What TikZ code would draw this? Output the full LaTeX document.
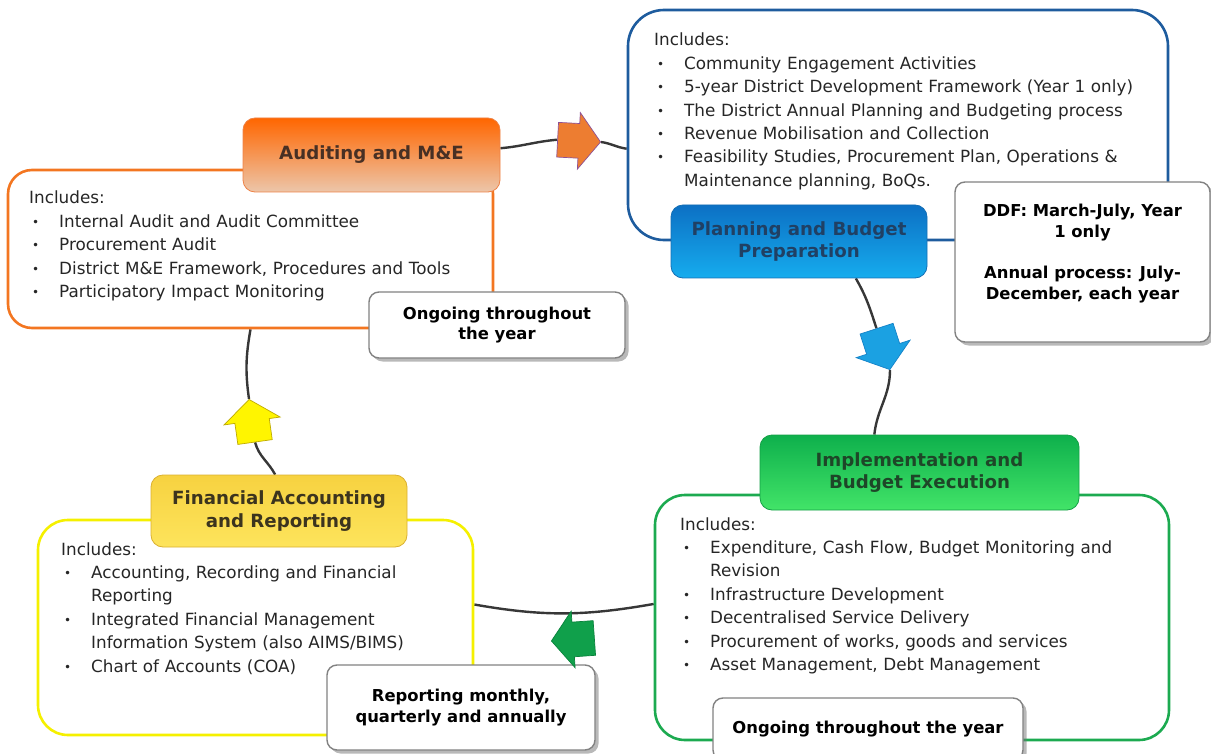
\documentclass[tikz,border=0pt]{standalone}
\usepackage{fontspec}
\setmainfont{DejaVu Sans}
\usetikzlibrary{shapes,arrows,positioning,calc,shadows,arrows.meta}
\pgfdeclarelayer{background}
\pgfsetlayers{background,main}
\definecolor{auditorange}{RGB}{243,118,33}
\definecolor{planblue}{RGB}{30,92,158}
\definecolor{implgreen}{RGB}{28,170,80}
\definecolor{finyellow}{RGB}{245,240,0}
\definecolor{ringgray}{RGB}{55,55,55}
\definecolor{notegray}{RGB}{130,130,130}

\newcommand{\bitem}[1]{\par\hangindent=30pt\hangafter=1\noindent\hspace*{3pt}\makebox[27pt][l]{\raisebox{1pt}{\fontsize{12}{12}\selectfont\textbullet}}#1\par}

\begin{document}
\begin{tikzpicture}[
    x=1pt, y=-1pt,
    stagebox/.style={rectangle, line width=2.6pt, fill=white, inner sep=0pt},
    stagetitle/.style={rectangle, rounded corners=12pt, line width=0.8pt, align=center, inner sep=0pt, font=\fontsize{18.2}{22.6}\selectfont\bfseries},
    audtab/.style={stagetitle, top color={rgb,255:red,255;green,102;blue,0}, middle color={rgb,255:red,251;green,118;blue,35}, bottom color={rgb,255:red,236;green,198;blue,170}, draw={rgb,255:red,238;green,130;blue,70}, text={rgb,255:red,72;green,48;blue,36}},
    plantab/.style={stagetitle, top color={rgb,255:red,12;green,112;blue,196}, bottom color={rgb,255:red,22;green,172;blue,238}, draw={rgb,255:red,20;green,110;blue,180}, text={rgb,255:red,32;green,64;blue,100}},
    impltab/.style={stagetitle, top color={rgb,255:red,14;green,176;blue,76}, bottom color={rgb,255:red,66;green,228;blue,104}, draw={rgb,255:red,20;green,160;blue,70}, text={rgb,255:red,30;green,70;blue,40}},
    fintab/.style={stagetitle, top color={rgb,255:red,247;green,210;blue,64}, bottom color={rgb,255:red,253;green,228;blue,92}, draw={rgb,255:red,218;green,176;blue,48}, text={rgb,255:red,60;green,52;blue,30}},
    notebox/.style={rectangle, rounded corners=10pt, draw=notegray, line width=1.4pt, fill=white, align=center, inner sep=0pt,
        font=\fontsize{16.4}{20.6}\selectfont\bfseries, drop shadow={shadow xshift=3.5pt, shadow yshift=-3.5pt, fill=black!55}},
    itemlist/.style={anchor=base west, inner sep=0pt, text width=#1, align=left, text=black!85,
        font=\fontsize{16.8}{23.4}\selectfont, execute at begin node={\setlength{\parskip}{0pt}}},
    blockarrow/.style={single arrow, anchor=tip, minimum height=43pt, minimum width=56pt, inner xsep=0pt, inner ysep=17pt,
        single arrow head extend=11pt, single arrow tip angle=105, line width=0.7pt},
    ring/.style={draw=ringgray, line width=2.4pt}
]
\useasboundingbox (0,0) rectangle (1211,754);

% Stage containers
\node[stagebox, draw=auditorange, rounded corners=24pt, minimum width=485pt, minimum height=158pt] (audbox) at (250.5,249) {};
\node[stagebox, draw=planblue, rounded corners=36pt, minimum width=540pt, minimum height=230pt] (planbox) at (898,125) {};
\node[stagebox, draw=implgreen, rounded corners=30pt, minimum width=514pt, minimum height=245pt] (implbox) at (912,617.5) {};
\node[stagebox, draw=finyellow, rounded corners=30pt, minimum width=435pt, minimum height=215pt] (finbox) at (255.5,627.5) {};

% Stage titles
\node[audtab, minimum width=257pt, minimum height=74pt] (audtitle) at (371.5,155) {Auditing and M\&E};
\node[plantab, minimum width=256pt, minimum height=73pt] (plantitle) at (799,241.5) {Planning and Budget\\Preparation};
\node[impltab, minimum width=319pt, minimum height=75pt] (impltitle) at (919.5,472.5) {Implementation and\\Budget Execution};
\node[fintab, minimum width=256pt, minimum height=72pt] (fintitle) at (279,511) {Financial Accounting\\and Reporting};

% Timing notes
\node[notebox, minimum width=256pt, minimum height=66pt] (audnote) at (497,325) {Ongoing throughout\\the year};
\node[notebox, minimum width=255pt, minimum height=160pt] (plannote) at (1082.5,262) {DDF: March-July, Year\\1 only\\[20.6pt]Annual process: July-\\December, each year\\ \mbox{}};
\node[notebox, minimum width=310pt, minimum height=62pt] (implnote) at (868,729) {Ongoing throughout the year};
\node[notebox, minimum width=268pt, minimum height=85pt] (finnote) at (461,707.5) {Reporting monthly,\\quarterly and annually};

% Lists of activities
\node[itemlist=440pt] (audlist) at (29,204) {Includes:
    \bitem{Internal Audit and Audit Committee}
    \bitem{Procurement Audit}
    \bitem{District M\&E Framework, Procedures and Tools}
    \bitem{Participatory Impact Monitoring}};
\node[itemlist=520pt] (planlist) at (654,46) {Includes:
    \bitem{Community Engagement Activities}
    \bitem{5-year District Development Framework (Year 1 only)}
    \bitem{The District Annual Planning and Budgeting process}
    \bitem{Revenue Mobilisation and Collection}
    \bitem{Feasibility Studies, Procurement Plan, Operations \&\newline Maintenance planning, BoQs.}};
\node[itemlist=480pt] (impllist) at (680,530) {Includes:
    \bitem{Expenditure, Cash Flow, Budget Monitoring and\newline Revision}
    \bitem{Infrastructure Development}
    \bitem{Decentralised Service Delivery}
    \bitem{Procurement of works, goods and services}
    \bitem{Asset Management, Debt Management}};
\node[itemlist=400pt] (finlist) at (61,555) {Includes:
    \bitem{Accounting, Recording and Financial\newline Reporting}
    \bitem{Integrated Financial Management\newline Information System (also AIMS/BIMS)}
    \bitem{Chart of Accounts (COA)}};

% Block arrows on the cycle
\node[blockarrow, fill={rgb,255:red,237;green,125;blue,49}, draw={rgb,255:red,140;green,80;blue,150}, rotate=-3] (arrA) at (601,142) {};
\node[blockarrow, fill={rgb,255:red,27;green,161;blue,226}, draw={rgb,255:red,20;green,130;blue,200}, rotate=-72] (arrB) at (890,370) {};
\node[blockarrow, fill={rgb,255:red,16;green,160;blue,75}, draw={rgb,255:red,10;green,130;blue,60}, rotate=184] (arrC) at (551,641) {};
\node[blockarrow, fill={rgb,255:red,255;green,245;blue,0}, draw={rgb,255:red,190;green,170;blue,0}, rotate=98] (arrD) at (249,399) {};

% Cycle connectors (behind the arrows)
\begin{pgfonlayer}{background}
\draw[ring] (audtitle.3) to[out=5,in=185] (arrA.tail);
\draw[ring] (arrA.tip) to[out=-8,in=172] (planbox.185);
\draw[ring] (plantitle.-33) to[out=-60,in=108] (arrB.tail);
\draw[ring] (arrB.tip) to[out=-90,in=84] (impltitle.140);
\draw[ring] (implbox.177) to[out=190,in=-10] (finbox.6);
\draw[ring] (fintitle.96) to[out=118,in=-75] (arrD.tail);
\draw[ring] (arrD.tip) to[out=98,in=-100] (audbox.south);
\end{pgfonlayer}

\end{tikzpicture}
\end{document}
